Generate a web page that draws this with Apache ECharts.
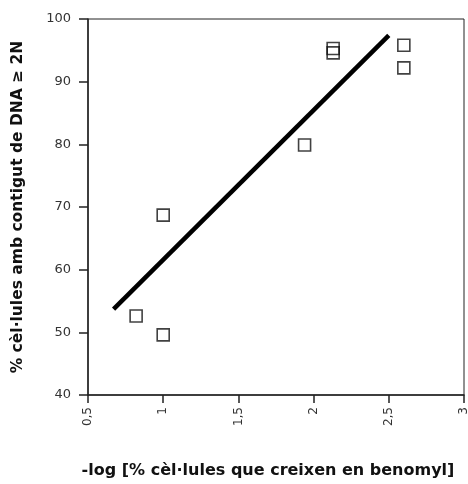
<!DOCTYPE html>
<html>
<head>
<meta charset="utf-8">
<script src="https://cdn.jsdelivr.net/npm/echarts@6/dist/echarts.min.js"></script>
<style>
    html, body { margin: 0; padding: 0; background: #fff; }
    #chart { width: 468px; height: 484px; }
</style>
</head>
<body>
<div id="chart"></div>
<script>
// punts mesurats
const xValues = [0.82, 1.0, 1.0, 1.94, 2.13, 2.13, 2.6, 2.6];
const yValues = [52.6, 49.6, 68.7, 79.9, 95.3, 94.6, 95.8, 92.2];
// recta de regressió (extrems)
const fitX = [0.67, 2.5];
const fitY = [53.7, 97.4];

const xTitle = '-log [% cèl·lules que creixen en benomyl]';
const yTitle = '% cèl·lules amb contigut de DNA ≥ 2N';

const chart = echarts.init(document.getElementById('chart'));

const points = xValues.map((x, i) => [x, yValues[i]]);
const fitLine = fitX.map((x, i) => [x, fitY[i]]);

chart.setOption({
    animation: false,
    backgroundColor: '#fff',
    grid: {
        left: 88,
        top: 19,
        right: 4,
        bottom: 89,
        outerBoundsMode: 'none',
        show: true,
        borderColor: '#222',
        borderWidth: 1
    },
    xAxis: {
        type: 'value',
        min: 0.5,
        max: 3,
        interval: 0.5,
        splitLine: { show: false },
        axisLine: { lineStyle: { color: '#222', width: 1.5 } },
        axisTick: { length: 8, lineStyle: { color: '#222', width: 1.5 } },
        axisLabel: {
            rotate: 90,
            color: '#333',
            fontSize: 12,
            fontFamily: 'DejaVu Sans',
            margin: 12,
            formatter: (v) => String(v).replace('.', ',')
        },
        name: xTitle,
        nameLocation: 'middle',
        nameGap: 68,
        nameTextStyle: {
            color: '#111',
            fontSize: 16,
            fontWeight: 'bold',
            fontFamily: 'DejaVu Sans',
            padding: [0, 16, 0, 0]
        }
    },
    yAxis: {
        type: 'value',
        min: 40,
        max: 100,
        interval: 10,
        splitLine: { show: false },
        axisLine: { show: true, lineStyle: { color: '#222', width: 1.5 } },
        axisTick: { show: true, length: 9, lineStyle: { color: '#222', width: 1.5 } },
        axisLabel: {
            color: '#333',
            fontSize: 13,
            fontFamily: 'DejaVu Sans',
            margin: 17
        },
        name: yTitle,
        nameLocation: 'middle',
        nameGap: 62,
        nameTextStyle: {
            color: '#111',
            fontSize: 15.5,
            fontWeight: 'bold',
            fontFamily: 'DejaVu Sans'
        }
    },
    series: [
        {
            name: 'regressió',
            type: 'line',
            data: fitLine,
            showSymbol: false,
            lineStyle: { color: '#000', width: 4.5 },
            z: 2
        },
        {
            name: 'dades',
            type: 'scatter',
            data: points,
            symbol: 'rect',
            symbolSize: 12,
            itemStyle: {
                color: 'rgba(255,255,255,0)',
                borderColor: '#111',
                borderWidth: 1.6
            },
            z: 3
        }
    ]
});
</script>
</body>
</html>
